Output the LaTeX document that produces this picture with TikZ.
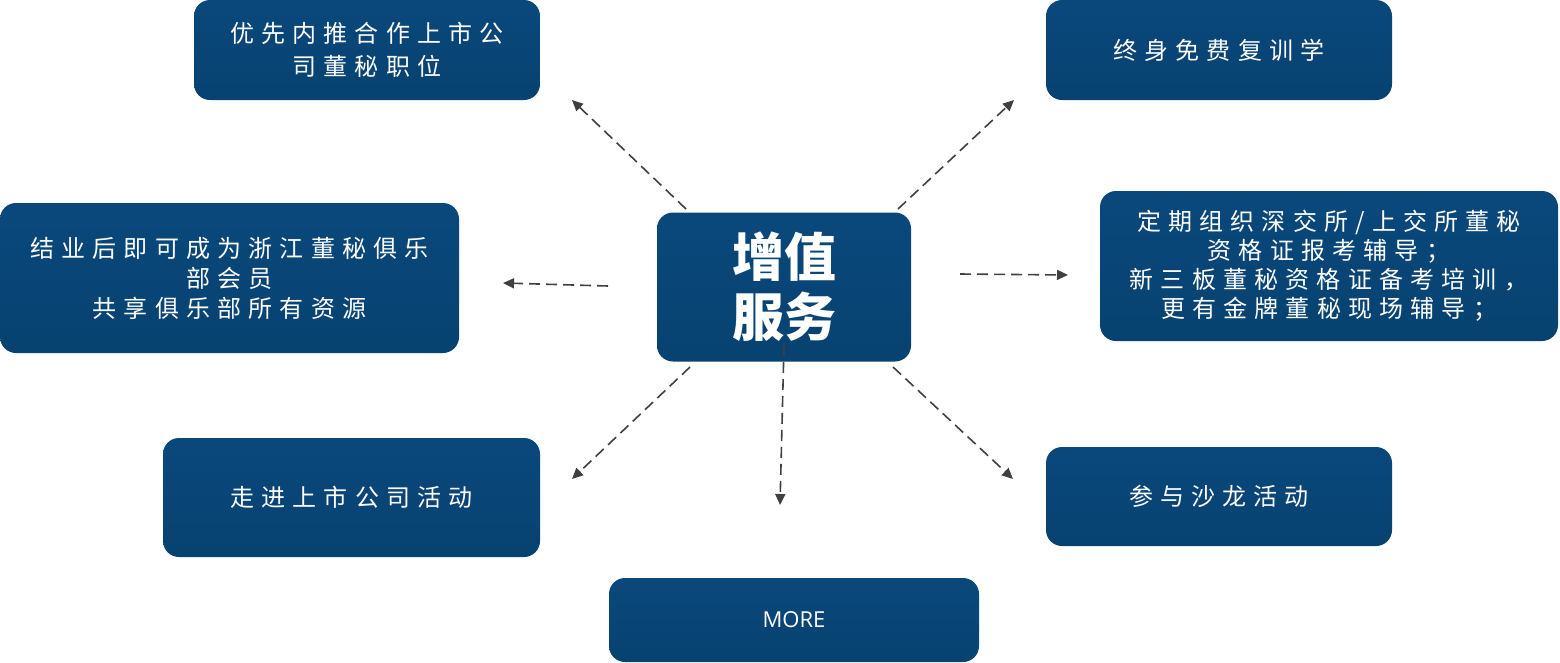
\documentclass[tikz,border=0pt]{standalone}
\usepackage{fontspec}
\setmainfont{Open Sans}
\newfontfamily\cjk[LetterSpace=30]{Noto Sans CJK SC}
\newfontfamily\cjkb{Noto Sans CJK SC}
\usetikzlibrary{arrows.meta}
\definecolor{boxtop}{RGB}{10,72,124}
\definecolor{boxbot}{RGB}{7,66,112}
\definecolor{arrowgrey}{RGB}{64,64,64}
\tikzset{
  infobox/.style={rectangle, rounded corners=16pt, top color=boxtop, bottom color=boxbot, draw=none,
    text=white, inner sep=0pt, align=center, font=\cjk\fontsize{24}{33}\selectfont},
  dasharrow/.style={draw=arrowgrey, line width=1.6pt, dash pattern=on 11pt off 6pt,
    -{Triangle[length=11pt,width=10pt]}}
}
\begin{document}
\begin{tikzpicture}[x=1pt,y=-1pt]
\useasboundingbox (0,0) rectangle (1560,662);
\node[infobox, minimum width=346pt, minimum height=100pt] (tl) at (367,50) {优先内推合作上市公\\司董秘职位};
\node[infobox, minimum width=346pt, minimum height=100pt] (tr) at (1219,50) {终身免费复训学};
\node[infobox, minimum width=459pt, minimum height=150pt, font=\cjk\fontsize{24}{30}\selectfont] (ml) at (229.5,278) {结业后即可成为浙江董秘俱乐\\部会员\\共享俱乐部所有资源};
\node[infobox, minimum width=254pt, minimum height=149pt, font=\cjkb\bfseries\fontsize{52}{60}\selectfont] (c) at (784,287) {增值\\服务};
\node[infobox, minimum width=458pt, minimum height=150pt, font=\cjk\fontsize{24}{29}\selectfont] (mr) at (1329,266) {定期组织深交所/上交所董秘\\资格证报考辅导；\\新三板董秘资格证备考培训，\\更有金牌董秘现场辅导；};
\node[infobox, minimum width=377pt, minimum height=119pt] (bl) at (351.5,497.5) {走进上市公司活动};
\node[infobox, minimum width=346pt, minimum height=99pt] (br) at (1219,496.5) {参与沙龙活动};
\node[infobox, minimum width=370pt, minimum height=84pt, font=\fontsize{22}{26}\selectfont] (more) at (794,620) {MORE};

\coordinate (a1s) at (686,209); \coordinate (a1e) at (572,100);
\coordinate (a2s) at (898,209); \coordinate (a2e) at (1014,100);
\coordinate (a3s) at (608,286); \coordinate (a3e) at (503,283);
\coordinate (a4s) at (960,274); \coordinate (a4e) at (1068,275);
\coordinate (a5s) at (690,367); \coordinate (a5e) at (572,479);
\coordinate (a6s) at (784,345); \coordinate (a6e) at (780,505);
\coordinate (a7s) at (893,367); \coordinate (a7e) at (1013,479);
\foreach \i in {1,...,7} { \draw[dasharrow] (a\i s) -- (a\i e); }
\end{tikzpicture}
\end{document}
